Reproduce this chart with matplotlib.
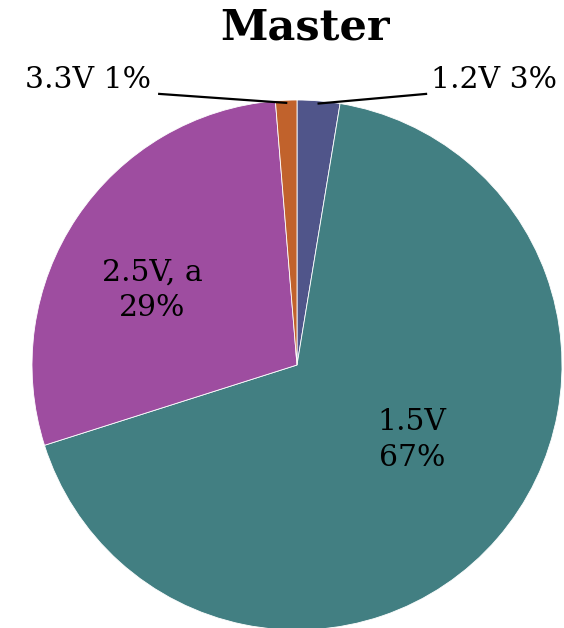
import matplotlib
matplotlib.use("Agg")
import matplotlib.pyplot as plt
import numpy as np

# data
voltages = ['1.2V', '1.5V', '2.5V', '3.3V']
shares = [2.6, 67.5, 28.6, 1.3]
pct_labels = ['3%', '67%', '29%', '1%']
colors = ['#50558A', '#427F82', '#9E4DA0', '#C1622C']

plt.rcParams['font.family'] = ['DejaVu Serif']

fig = plt.figure(figsize=(5.64, 6.28), dpi=100)
# pie centre ~ (297, 365) px, radius ~ 265 px
ax = fig.add_axes([32 / 564, (628 - 365 - 265) / 628, 530 / 564, 530 / 628])
wedges, _ = ax.pie(shares, colors=colors, startangle=90, counterclock=False,
                   wedgeprops=dict(edgecolor='white', linewidth=0.6))
ax.set_xlim(-1, 1)
ax.set_ylim(-1, 1)
ax.set_aspect('equal')
ax.axis('off')
for w in wedges:
    w.set_clip_on(False)

def mid_point(w, r=1.0):
    ang = np.deg2rad((w.theta1 + w.theta2) / 2)
    return r * np.cos(ang), r * np.sin(ang)

fs = 21.5

# outside labels with leader lines
x0, y0 = mid_point(wedges[0])
ax.plot([x0, 0.487], [y0 - 0.01, 1.023], color='black', lw=1.6, clip_on=False)
ax.text(0.505, 1.075, f'{voltages[0]} {pct_labels[0]}', ha='left', va='center', fontsize=fs)

x3, y3 = mid_point(wedges[3])
ax.plot([x3, -0.52], [y3 - 0.01, 1.023], color='black', lw=1.6, clip_on=False)
ax.text(-0.55, 1.075, f'{voltages[3]} {pct_labels[3]}', ha='right', va='center', fontsize=fs)

# inside labels
ax.text(-0.547, 0.283, f'{voltages[2]}, a\n{pct_labels[2]}', ha='center', va='center',
        fontsize=fs, linespacing=1.35)
ax.text(0.434, -0.283, f'{voltages[1]}\n{pct_labels[1]}', ha='center', va='center',
        fontsize=fs, linespacing=1.35)

fig.text(305 / 564, 1 - 28 / 628, 'Master', ha='center', va='center',
         fontsize=31, fontweight='bold')

fig.savefig('out.png', dpi=100, facecolor='white')
